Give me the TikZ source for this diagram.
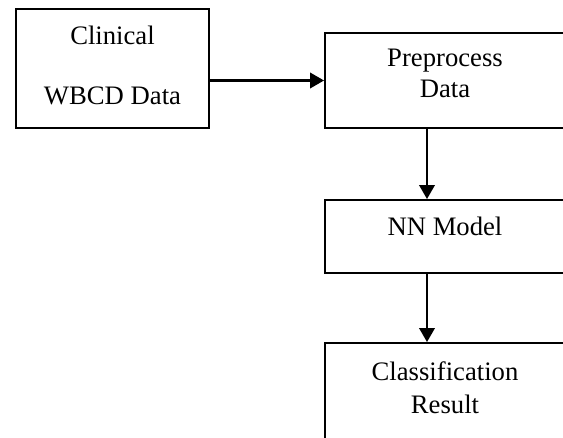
\documentclass[tikz,border=0pt]{standalone}
\usepackage{fontspec}
\setmainfont{Liberation Serif}
\usetikzlibrary{arrows.meta}

\begin{document}
\begin{tikzpicture}[x=0.75pt,y=-0.75pt,
        block/.style={draw,line width=1.4pt,align=center,inner sep=0pt,
            minimum width=180pt,font=\fontsize{20}{23.25}\selectfont},
        lift/.style={execute at end node={\rule[-#1]{0pt}{#1}}},
        link/.style={line width=1.9pt,-{Triangle[length=10.5pt,width=11.5pt]}}]
        \useasboundingbox (0,0) rectangle (563,438);
        \clip (0,0) rectangle (563,438);
        \node(clinical)[block,lift=4.5pt,minimum width=144.75pt,minimum height=89.25pt] at (112.5,68.5) {Clinical\\[21.75pt]WBCD Data};
        \node(preprocess)[block,lift=10.5pt,minimum height=71.25pt] at (445,80.5) {Preprocess\\Data};
        \node(nnmodel)[block,lift=15pt,minimum height=54.75pt] at (445,236.5) {NN Model};
        \node(result)[block,lift=7.5pt,minimum height=75pt] at (445,393) {Classification\\[1.5pt]Result};
        \draw[link] (clinical.east |- preprocess.west) -- (preprocess.west);
        \draw[link] ([xshift=-13.5pt]preprocess.south) -- ([xshift=-13.5pt]nnmodel.north);
        \draw[link] ([xshift=-13.5pt]nnmodel.south) -- ([xshift=-13.5pt]result.north);
    \end{tikzpicture}
\end{document}
